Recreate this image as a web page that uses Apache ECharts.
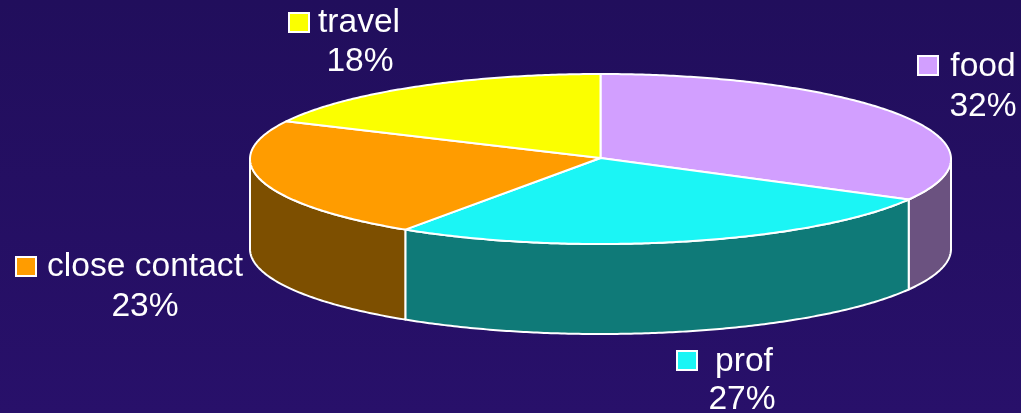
<!DOCTYPE html>
<html>
<head>
<meta charset="utf-8">
<style>html,body{margin:0;padding:0;background:#230f61}#c{width:1021px;height:413px}</style>
<script src="https://cdn.jsdelivr.net/npm/echarts@6/dist/echarts.min.js"></script>
</head>
<body>
<div id="c"></div>
<script>
var categories = ['food', 'prof', 'close contact', 'travel'];
var sliceShares = [32.9, 26.5, 22.9, 17.7];
var percentLabels = ['32%', '27%', '23%', '18%'];

var topColors = ['#d29fff', '#1bf5f5', '#ff9c00', '#fbff00'];
var wallColors = ['#6b5280', '#0f7a78', '#7d4f00', '#7d7d00'];
var legendLayout = [
  {sx: 918, sy: 56, nx: 983, ny: 67, px: 983, py: 107},
  {sx: 677, sy: 351, nx: 744, ny: 362, px: 742, py: 400},
  {sx: 16, sy: 257, nx: 145, ny: 267, px: 145, py: 307},
  {sx: 289, sy: 13, nx: 359, ny: 23, px: 360, py: 62}
];
var CX = 600.5, CY = 159, RX = 350.5, RY = 85, DEPTH = 90;
var total = sliceShares.reduce(function (a, b) { return a + b; }, 0);
var font = '"Liberation Sans", Arial, sans-serif';

function pt(t, dy) {
  return [CX + RX * Math.sin(t), CY + RY * -Math.cos(t) + (dy || 0)];
}
function arc(a, b, dy) {
  var n = Math.max(2, Math.ceil(Math.abs(b - a) / 0.01)), out = [];
  for (var i = 0; i <= n; i++) out.push(pt(a + (b - a) * i / n, dy));
  return out;
}

function renderItem(params, api) {
  var i = params.dataIndex;
  var before = 0;
  for (var k = 0; k < i; k++) before += sliceShares[k];
  var a = before / total * Math.PI * 2;
  var b = (before + api.value(1)) / total * Math.PI * 2;
  var children = [];
  var wa = Math.max(a, Math.PI / 2), wb = Math.min(b, Math.PI * 1.5);
  if (wb > wa) {
    var upper = arc(wa, wb, 0), lower = arc(wb, wa, DEPTH);
    children.push({
      type: 'polygon', shape: {points: upper.concat(lower)},
      style: {fill: wallColors[i], stroke: '#fff', lineWidth: 2, lineJoin: 'round'}
    });
  }
  children.push({
    type: 'polygon', shape: {points: [[CX, CY - 1]].concat(arc(a, b, 0))},
    style: {fill: topColors[i], stroke: '#fff', lineWidth: 2, lineJoin: 'round'}
  });
  var L = legendLayout[i];
  children.push({
    type: 'rect', shape: {x: L.sx, y: L.sy, width: 20, height: 19},
    style: {fill: topColors[i], stroke: '#fff', lineWidth: 2}
  });
  children.push({
    type: 'text',
    style: {x: L.nx, y: L.ny, text: categories[i], fill: '#fff', font: '33.6px ' + font, textAlign: 'center', textVerticalAlign: 'middle'}
  });
  children.push({
    type: 'text',
    style: {x: L.px, y: L.py, text: percentLabels[i], fill: '#fff', font: '33.6px ' + font, textAlign: 'center', textVerticalAlign: 'middle'}
  });
  return {type: 'group', children: children};
}

var chart = echarts.init(document.getElementById('c'), null, {renderer: 'canvas'});
chart.setOption({
  animation: false,
  backgroundColor: {
    type: 'linear', x: 0, y: 0, x2: 0, y2: 1,
    colorStops: [{offset: 0, color: '#210e5c'}, {offset: 1, color: '#28106a'}]
  },
  series: [{
    type: 'custom',
    coordinateSystem: 'none',
    renderItem: renderItem,
    data: categories.map(function (c, i) { return [i, sliceShares[i]]; })
  }]
});
</script>
</body>
</html>
